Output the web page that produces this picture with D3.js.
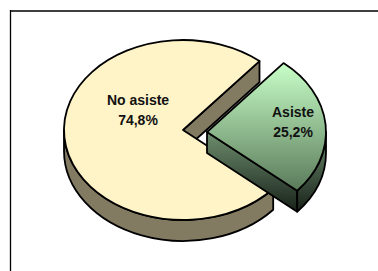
<!DOCTYPE html>
<html lang="en">
<head>
<meta charset="utf-8">
<title>Asistencia</title>
<script src="https://cdn.jsdelivr.net/npm/d3@7"></script>
<style>
  body { margin: 0; background: #fff; }
  svg { display: block; }
  .lbl { font-family: Arial, "Liberation Sans", sans-serif; font-weight: bold; font-size: 14px; fill: #111; }
</style>
</head>
<body>
<script>
// data
var categories = ["Asiste", "No asiste"];
var values = [25.2, 74.8];
var labels = ["25,2%", "74,8%"];

var W = 378, H = 271;
var cx = 183, cy = 130, rx = 119, ry = 90, depth = 21;
var explode = [{dx: 24, dy: 2}, {dx: 0, dy: 0}];
var labelPos = [{x: 293, y: 117}, {x: 138, y: 105}];

var topFill = ["url(#gTop)", "#fff3c8"];
var sideFill = ["url(#gSide)", "#837a62"];

var svg = d3.select("body").append("svg")
    .attr("width", W)
    .attr("height", H);

var defs = svg.append("defs");
var g1 = defs.append("linearGradient").attr("id", "gTop")
    .attr("x1", 0).attr("y1", 0).attr("x2", 0).attr("y2", 1);
g1.append("stop").attr("offset", "0%").attr("stop-color", "#c8ffc8");
g1.append("stop").attr("offset", "100%").attr("stop-color", "#5a7a5a");
var g2 = defs.append("linearGradient").attr("id", "gSide")
    .attr("x1", 0).attr("y1", 0).attr("x2", 0).attr("y2", 1);
g2.append("stop").attr("offset", "0%").attr("stop-color", "#6e8e6e");
g2.append("stop").attr("offset", "100%").attr("stop-color", "#18221a");

// frame (only top and left show in the crop)
svg.append("line").attr("x1", 10).attr("y1", 11).attr("x2", W).attr("y2", 11)
    .attr("stroke", "#404040").attr("stroke-width", 2);
svg.append("line").attr("x1", 10.5).attr("y1", 10).attr("x2", 10.5).attr("y2", H)
    .attr("stroke", "#000").attr("stroke-width", 1.3);

var deg = Math.PI / 180;
var pie = d3.pie().sort(null)
    .startAngle(40 * deg)
    .endAngle(400 * deg)(values);

// projection of the tilted disc
function pt(a, ox, oy, dz) {
  return [ox + rx * Math.sin(a), oy - ry * Math.cos(a) + (dz || 0)];
}

function topPath(d, ox, oy) {
  var p0 = pt(d.startAngle, ox, oy), p1 = pt(d.endAngle, ox, oy);
  var large = (d.endAngle - d.startAngle) > Math.PI ? 1 : 0;
  return "M" + ox + "," + oy + "L" + p0 + "A" + rx + "," + ry + " 0 " + large + " 1 " + p1 + "Z";
}

function outerSide(a0, a1, ox, oy) {
  // front half is 90..270 deg
  var s = a0, e = a1;
  var out = [];
  [[90 * deg, 270 * deg], [450 * deg, 630 * deg], [-270 * deg, -90 * deg]].forEach(function(r) {
    var s1 = Math.max(s, r[0]), e1 = Math.min(e, r[1]);
    if (e1 > s1) {
      var t0 = pt(s1, ox, oy), t1 = pt(e1, ox, oy);
      var b0 = pt(s1, ox, oy, depth), b1 = pt(e1, ox, oy, depth);
      var large = (e1 - s1) > Math.PI ? 1 : 0;
      out.push("M" + t0 + "A" + rx + "," + ry + " 0 " + large + " 1 " + t1 +
        "L" + b1 + "A" + rx + "," + ry + " 0 " + large + " 0 " + b0 + "Z");
    }
  });
  return out.join("");
}

function wall(a, ox, oy) {
  var p = pt(a, ox, oy), q = pt(a, ox, oy, depth);
  return "M" + ox + "," + oy + "L" + p + "L" + q + "L" + ox + "," + (oy + depth) + "Z";
}

// draw the big slice first, exploded slice over it
var order = [1, 0];
order.forEach(function(i) {
  var d = pie[i];
  var ox = cx + explode[i].dx, oy = cy + explode[i].dy;
  var g = svg.append("g");
  // radial walls that face the viewer
  if (Math.cos(d.startAngle - Math.PI / 2) < 0) {
    g.append("path").attr("d", wall(d.startAngle, ox, oy))
      .attr("fill", sideFill[i]).attr("stroke", "#000").attr("stroke-width", 1.8).attr("stroke-linejoin", "round");
  }
  if (Math.cos(d.endAngle + Math.PI / 2) < 0) {
    g.append("path").attr("d", wall(d.endAngle, ox, oy))
      .attr("fill", sideFill[i]).attr("stroke", "#000").attr("stroke-width", 1.8).attr("stroke-linejoin", "round");
  }
  var os = outerSide(d.startAngle, d.endAngle, ox, oy);
  if (os) {
    g.append("path").attr("d", os)
      .attr("fill", sideFill[i]).attr("stroke", "#000").attr("stroke-width", 1.8).attr("stroke-linejoin", "round");
  }
  g.append("path").attr("d", topPath(d, ox, oy))
    .attr("fill", topFill[i]).attr("stroke", "#000").attr("stroke-width", 1.8).attr("stroke-linejoin", "round");
});

// labels
categories.forEach(function(c, i) {
  var t = svg.append("text").attr("class", "lbl").attr("text-anchor", "middle");
  t.append("tspan").attr("x", labelPos[i].x).attr("y", labelPos[i].y).text(c);
  t.append("tspan").attr("x", labelPos[i].x).attr("y", labelPos[i].y + 20).text(labels[i]);
});
</script>
</body>
</html>
